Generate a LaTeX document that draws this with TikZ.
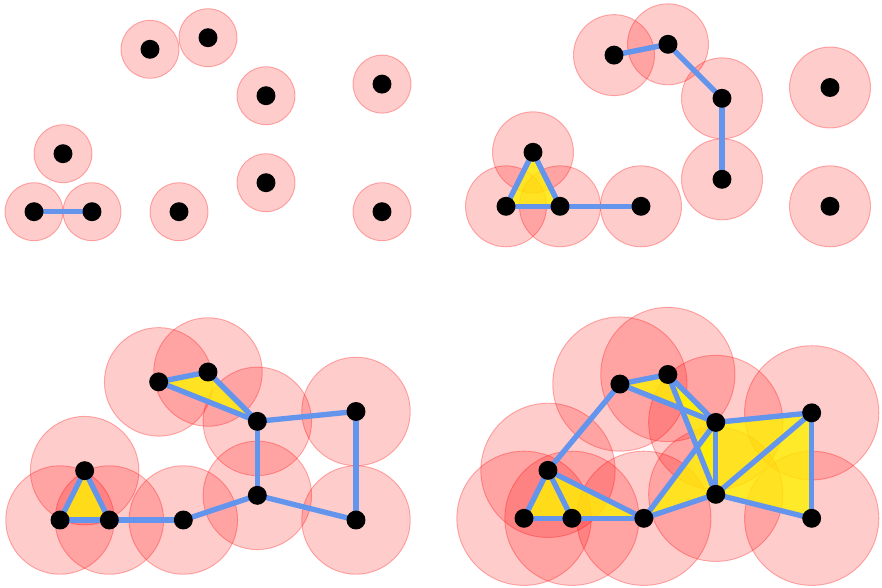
\documentclass[tikz,border=0pt]{standalone}
\definecolor{cornflower}{RGB}{100,149,237}
\tikzset{
  ball/.style={fill=red, fill opacity=0.2, draw=red, draw opacity=0.3, line width=0.7pt},
  simplex/.style={fill=yellow, fill opacity=0.8},
  edge/.style={draw=cornflower, line width=4pt},
  pt/.style={circle, fill=black, inner sep=0pt, minimum size=14.2pt},
}
\def\pts{A/2/2.8, B/3/3, C/4/2, D/6/2.2, E/0.5/1, F/0/0, G/1/0, H/2.5/0, I/4/0.5, J/6/0}
\begin{document}
\begin{tikzpicture}[x=0.75pt,y=-0.75pt]
\useasboundingbox (0,0) rectangle (882,587);

% ---------- panel 1 ----------
\begin{scope}[shift={(34,211.7)}, x={(43.5pt,0pt)}, y={(0pt,43.5pt)}]
  \foreach \n/\a/\b in \pts { \coordinate (a\n) at (\a,\b); }
  \foreach \n/\a/\b in \pts { \draw[ball] (a\n) circle[radius=0.5]; }
  \draw[edge] (aF) -- (aG);
  \foreach \n/\a/\b in \pts { \node[pt] at (a\n) {}; }
\end{scope}

% ---------- panel 2 ----------
\begin{scope}[shift={(506,206.3)}, x={(40.5pt,0pt)}, y={(0pt,40.5pt)}]
  \foreach \n/\a/\b in \pts { \coordinate (b\n) at (\a,\b); }
  \foreach \n/\a/\b in \pts { \draw[ball] (b\n) circle[radius=0.75]; }
  \fill[simplex] (bE) -- (bF) -- (bG) -- cycle;
  \draw[edge] (bE) -- (bF);
  \draw[edge] (bE) -- (bG);
  \draw[edge] (bF) -- (bG);
  \draw[edge] (bG) -- (bH);
  \draw[edge] (bA) -- (bB);
  \draw[edge] (bB) -- (bC);
  \draw[edge] (bC) -- (bI);
  \foreach \n/\a/\b in \pts { \node[pt] at (b\n) {}; }
\end{scope}

% ---------- panel 3 ----------
\begin{scope}[shift={(60,520)}, x={(37pt,0pt)}, y={(0pt,37pt)}]
  \foreach \n/\a/\b in \pts { \coordinate (c\n) at (\a,\b); }
  \foreach \n/\a/\b in \pts { \draw[ball] (c\n) circle[radius=1.1]; }
  \fill[simplex] (cA) -- (cB) -- (cC) -- cycle;
  \fill[simplex] (cE) -- (cF) -- (cG) -- cycle;
  \draw[edge] (cA) -- (cB);
  \draw[edge] (cA) -- (cC);
  \draw[edge] (cB) -- (cC);
  \draw[edge] (cC) -- (cD);
  \draw[edge] (cC) -- (cI);
  \draw[edge] (cD) -- (cJ);
  \draw[edge] (cI) -- (cH);
  \draw[edge] (cI) -- (cJ);
  \draw[edge] (cH) -- (cG);
  \draw[edge] (cF) -- (cG);
  \draw[edge] (cE) -- (cF);
  \draw[edge] (cE) -- (cG);
  \foreach \n/\a/\b in \pts { \node[pt] at (c\n) {}; }
\end{scope}

% ---------- panel 4 ----------
\begin{scope}[shift={(524,518.3)}, x={(35.96pt,0pt)}, y={(0pt,35.96pt)}]
  \foreach \n/\a/\b in \pts { \coordinate (d\n) at (\a,\b); }
  \foreach \n/\a/\b in \pts { \draw[ball] (d\n) circle[radius=1.4]; }
  \fill[simplex] (dE) -- (dF) -- (dG) -- cycle;
  \fill[simplex] (dE) -- (dG) -- (dH) -- cycle;
  \fill[simplex] (dA) -- (dB) -- (dC) -- cycle;
  \fill[simplex] (dB) -- (dC) -- (dI) -- cycle;
  \fill[simplex] (dC) -- (dH) -- (dI) -- cycle;
  \fill[simplex] (dC) -- (dD) -- (dI) -- cycle;
  \fill[simplex] (dD) -- (dI) -- (dJ) -- cycle;
  \draw[edge] (dA) -- (dB);
  \draw[edge] (dA) -- (dC);
  \draw[edge] (dB) -- (dC);
  \draw[edge] (dB) -- (dI);
  \draw[edge] (dA) -- (dE);
  \draw[edge] (dE) -- (dF);
  \draw[edge] (dE) -- (dG);
  \draw[edge] (dE) -- (dH);
  \draw[edge] (dF) -- (dG);
  \draw[edge] (dG) -- (dH);
  \draw[edge] (dC) -- (dH);
  \draw[edge] (dH) -- (dI);
  \draw[edge] (dC) -- (dI);
  \draw[edge] (dC) -- (dD);
  \draw[edge] (dD) -- (dI);
  \draw[edge] (dD) -- (dJ);
  \draw[edge] (dI) -- (dJ);
  \foreach \n/\a/\b in \pts { \node[pt] at (d\n) {}; }
\end{scope}
\end{tikzpicture}
\end{document}
